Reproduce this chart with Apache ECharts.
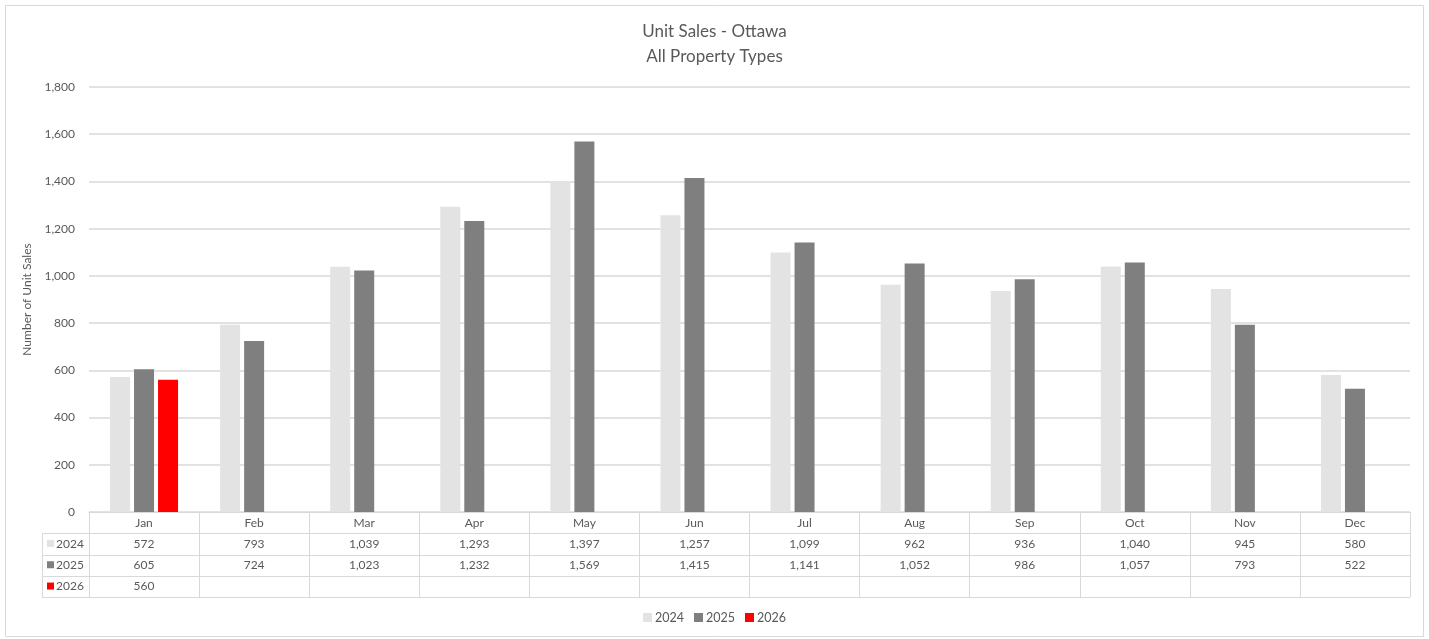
<!DOCTYPE html>
<html><head><meta charset="utf-8">
<script src="https://cdn.jsdelivr.net/npm/echarts@6/dist/echarts.min.js"></script>
<style>html,body{margin:0;padding:0;background:#fff}#c{width:1429px;height:639px}</style>
</head><body><div id="c"></div>
<script>
const months = ['Jan','Feb','Mar','Apr','May','Jun','Jul','Aug','Sep','Oct','Nov','Dec'];
const s2024 = [572,793,1039,1293,1397,1257,1099,962,936,1040,945,580];
const s2025 = [605,724,1023,1232,1569,1415,1141,1052,986,1057,793,522];
const s2026 = [560,null,null,null,null,null,null,null,null,null,null,null];
const seriesNames = ['2024','2025','2026'];
const yTicks = [0,200,400,600,800,1000,1200,1400,1600,1800];

const colors = ['#E3E3E3','#7F7F7F','#FF0000'];
const txt = '#595959';
const lineC = '#D9D9D9';
const FONT = 'Lato';
const G = {left:89, right:19, top:87, bottom:127};
const rowH = 21.3;
const tableTop = 512;

const chart = echarts.init(document.getElementById('c'), null, {renderer:'canvas'});
const allSeries = [s2024, s2025, s2026];
const fmt = v => v == null ? '' : v.toLocaleString('en-US');

chart.setOption({
  animation:false,
  backgroundColor:'#fff',
  textStyle:{fontFamily:FONT},
  title:{text:'Unit Sales - Ottawa\nAll Property Types', left:'center', top:14,
    textStyle:{fontFamily:FONT, fontSize:17, fontWeight:'normal', color:txt, lineHeight:25}},
  legend:{bottom:10, left:'center', itemWidth:9, itemHeight:9, itemGap:10, icon:'rect',
    textStyle:{fontFamily:FONT, fontSize:12.5, color:txt, padding:[0,0,0,-2]}, data:seriesNames},
  grid:{left:G.left, right:G.right, top:G.top, bottom:G.bottom, containLabel:false},
  xAxis:{type:'category', data:months, boundaryGap:true,
    axisLine:{show:true, lineStyle:{color:lineC}},
    axisTick:{show:true, length:85, lineStyle:{color:lineC}},
    axisLabel:{color:txt, fontSize:12, margin:5, fontFamily:FONT}},
  yAxis:{type:'value', min:0, max:1800, interval:200,
    name:'Number of Unit Sales', nameLocation:'middle', nameGap:45, nameRotate:90,
    nameTextStyle:{color:txt, fontSize:12, fontFamily:FONT},
    axisLine:{show:false}, axisTick:{show:false},
    axisLabel:{color:txt, fontSize:12, margin:14, fontFamily:FONT, formatter:v=>v.toLocaleString('en-US')},
    splitLine:{lineStyle:{color:lineC, width:1.5}}},
  series: seriesNames.map((n,i)=>({name:n, type:'bar', data:allSeries[i], barWidth:20, barGap:'20%',
    itemStyle:{color:colors[i]}}))
});

function drawTable(){
  const els = [];
  const left = G.left, right = 1429 - G.right;
  const legLeft = 42;
  els.push({type:'rect', shape:{x:5.5,y:5.5,width:1418,height:631}, style:{fill:null, stroke:lineC, lineWidth:1}, silent:true, z:-1});
  for(let r=1;r<=4;r++){
    const y = Math.round(tableTop + r*rowH)+0.5;
    els.push({type:'line', shape:{x1:legLeft,y1:y,x2:right,y2:y}, style:{stroke:lineC, lineWidth:1}, silent:true});
  }
  els.push({type:'line', shape:{x1:legLeft+0.5,y1:tableTop+rowH,x2:legLeft+0.5,y2:tableTop+4*rowH}, style:{stroke:lineC}, silent:true});
  seriesNames.forEach((n,i)=>{
    const cy = tableTop + (i+1.5)*rowH;
    els.push({type:'rect', shape:{x:legLeft+5,y:cy-4,width:7,height:7}, style:{fill:colors[i]}, silent:true});
    els.push({type:'text', x:legLeft+14, y:cy, style:{text:n, fill:txt, font:'12px '+FONT, textVerticalAlign:'middle', textAlign:'left'}, silent:true});
    allSeries[i].forEach((v,j)=>{
      const x = chart.convertToPixel({xAxisIndex:0}, months[j]);
      if(v!=null) els.push({type:'text', x:x, y:cy, style:{text:fmt(v), fill:txt, font:'12px '+FONT, textAlign:'center', textVerticalAlign:'middle'}, silent:true});
    });
  });
  chart.setOption({graphic:{elements:els}});
}
drawTable();
</script></body></html>
